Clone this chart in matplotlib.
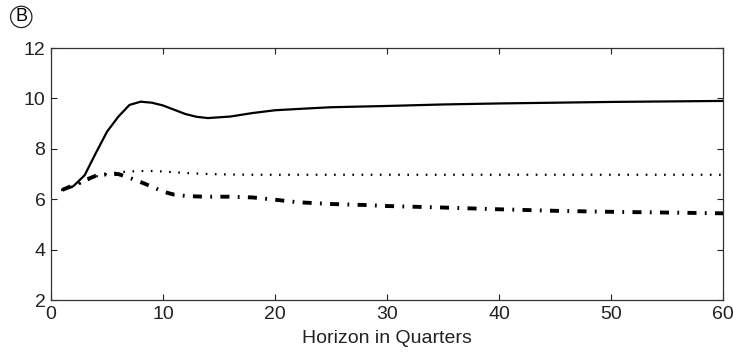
import matplotlib
matplotlib.use('Agg')
import matplotlib.pyplot as plt

plt.rcParams['font.family'] = ['Liberation Sans', 'DejaVu Sans']
plt.rcParams['lines.scale_dashes'] = False

# horizon (quarters) and the three impulse paths
horizon = [1, 2, 3, 4, 5, 6, 7, 8, 9, 10, 11, 12, 13, 14,
           16, 18, 20, 22, 25, 28, 30, 35, 40, 45, 50, 55, 60]
solid = [6.37, 6.52, 6.95, 7.83, 8.68, 9.27, 9.74, 9.87, 9.83, 9.72, 9.55, 9.38, 9.27, 9.22,
         9.28, 9.42, 9.53, 9.58, 9.65, 9.68, 9.70, 9.76, 9.80, 9.83, 9.86, 9.88, 9.90]
dotted = [6.37, 6.50, 6.70, 6.90, 7.00, 7.07, 7.10, 7.12, 7.12, 7.10, 7.07, 7.04, 7.02, 7.00,
          6.98, 6.97, 6.97, 6.97, 6.97, 6.97, 6.97, 6.97, 6.97, 6.97, 6.97, 6.97, 6.97]
dashdot = [6.37, 6.55, 6.75, 6.93, 6.99, 7.00, 6.85, 6.68, 6.50, 6.30, 6.18, 6.13, 6.11, 6.10,
           6.10, 6.07, 5.98, 5.88, 5.81, 5.77, 5.73, 5.67, 5.60, 5.54, 5.50, 5.47, 5.44]

fig = plt.figure(figsize=(7.33, 3.52), dpi=100)
ax = fig.add_axes([0.0696, 0.1477, 0.9168, 0.7159])

ax.plot(horizon, solid, color='black', lw=1.6)
ax.plot(horizon, dotted, color='black', lw=1.6, linestyle=(0, (1.2, 5.4)))
ax.plot(horizon, dashdot, color='black', lw=2.8, linestyle=(0, (6.5, 6.0, 1.3, 6.0)),
        dash_capstyle='butt')

ax.set_xlim(0, 60)
ax.set_ylim(2, 12)
ax.set_xticks([0, 10, 20, 30, 40, 50, 60])
ax.set_yticks([2, 4, 6, 8, 10, 12])
ax.tick_params(direction='in', length=4, width=0.8, top=True, right=True,
               labelsize=14, colors='#222222', pad=4)
for s in ax.spines.values():
    s.set_linewidth(0.9)
    s.set_color('#333333')
ax.set_xlabel('Horizon in Quarters', fontsize=14, labelpad=5, color='#222222')

fig.text(0.029, 0.952, 'B', fontsize=13, ha='center', va='center',
         bbox=dict(boxstyle='circle,pad=0.12', fc='none', ec='#222222', lw=0.9))

fig.savefig('out.png', dpi=100)
